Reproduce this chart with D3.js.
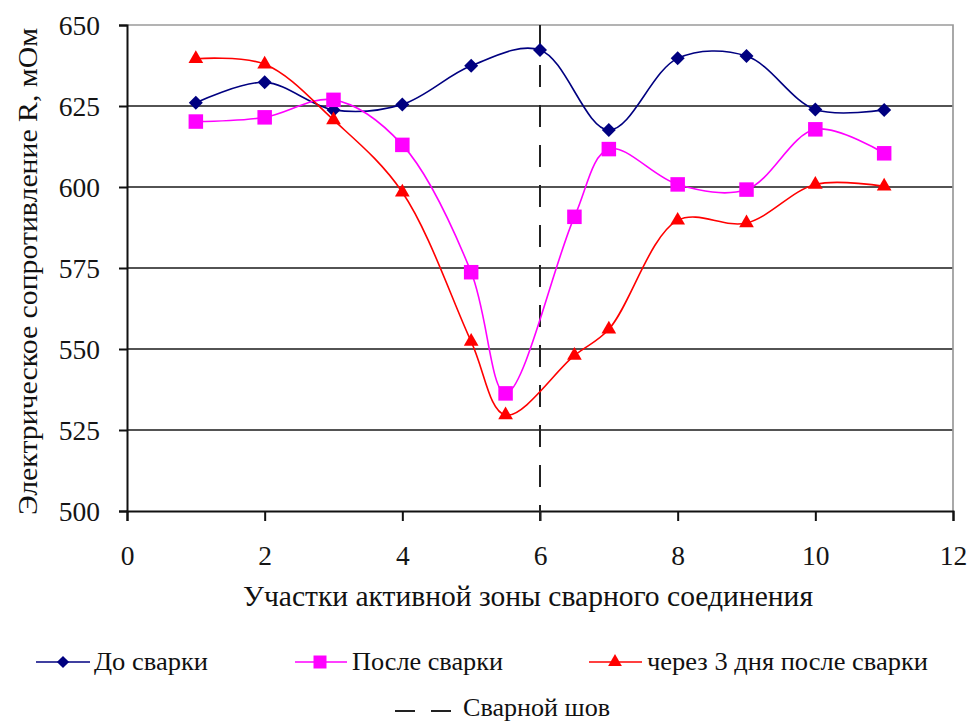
<!DOCTYPE html>
<html>
<head>
<meta charset="utf-8">
<script src="https://cdn.jsdelivr.net/npm/d3@7"></script>
<style>
  html, body { margin: 0; padding: 0; background: #fff; }
  svg { display: block; }
</style>
</head>
<body>
<svg id="chart" width="969" height="721"></svg>
<script>
// Measurement sites along the weld zone
const xBefore = [1, 2, 3, 4, 5, 6, 7, 8, 9, 10, 11];
const rBefore = [626.0, 632.3, 623.8, 625.5, 637.4, 642.3, 617.6, 639.7, 640.4, 623.9, 623.8];

const xAfter = [1, 2, 3, 4, 5, 5.5, 6.5, 7, 8, 9, 10, 11];
const rAfter = [620.2, 621.5, 626.9, 613.0, 573.7, 536.3, 590.8, 611.7, 600.8, 599.2, 617.8, 610.4];

const xLater = [1, 2, 3, 4, 5, 5.5, 6.5, 7, 8, 9, 10, 11];
const rLater = [639.6, 637.9, 620.7, 598.4, 552.3, 529.6, 548.0, 556.1, 589.7, 588.9, 600.8, 600.2];

const seamX = 6;

const xTicks = [0, 2, 4, 6, 8, 10, 12];
const yTicks = [500, 525, 550, 575, 600, 625, 650];

const seriesNames = ["До сварки", "После сварки", "через 3 дня после сварки"];
const seamName = "Сварной шов";
const xTitle = "Участки активной зоны сварного соединения";
const yTitle = "Электрическое сопротивление R,  мОм";

const FONT = '"Liberation Serif"';

const svg = d3.select("#chart");
const x = d3.scaleLinear().domain([0, 12]).range([127, 953]);
const y = d3.scaleLinear().domain([500, 650]).range([511, 25]);

// horizontal gridlines
svg.append("g").selectAll("line")
  .data(yTicks.filter(v => v > 500 && v < 650))
  .join("line")
  .attr("x1", x(0)).attr("x2", x(12))
  .attr("y1", d => y(d)).attr("y2", d => y(d))
  .attr("stroke", "#1a1a1a").attr("stroke-width", 1.7);

// plot border (top and right)
svg.append("path")
  .attr("d", `M${x(0)},${y(650)}H${x(12)}V${y(500)}`)
  .attr("fill", "none").attr("stroke", "#9a9a9a").attr("stroke-width", 1.7);

// axes
const xAxis = svg.append("g")
  .attr("transform", `translate(0,${y(500)})`)
  .call(d3.axisBottom(x).tickValues(xTicks).tickSize(10).tickPadding(24).tickFormat(d3.format("d")));
const yAxis = svg.append("g")
  .attr("transform", `translate(${x(0)},0)`)
  .call(d3.axisLeft(y).tickValues(yTicks).tickSize(8).tickPadding(19).tickFormat(d3.format("d")));
[xAxis, yAxis].forEach(g => {
  g.attr("font-family", "Liberation Serif").attr("font-size", 27.5);
  g.select(".domain").attr("stroke", "#111").attr("stroke-width", 2);
  g.selectAll(".tick line").attr("stroke", "#111").attr("stroke-width", 2);
  g.selectAll(".tick text")
    .style("font-family", FONT).style("font-size", "27.5px")
    .attr("fill", "#151515");
});
yAxis.selectAll(".tick text").attr("dy", "0.33em");

// weld seam marker
svg.append("line")
  .attr("x1", x(seamX)).attr("x2", x(seamX))
  .attr("y1", y(650)).attr("y2", y(500) + 10)
  .attr("stroke", "#222").attr("stroke-width", 2)
  .attr("stroke-dasharray", "22,18");

const line = d3.line().curve(d3.curveCatmullRom.alpha(0.5));

const series = [
  { xs: xBefore, ys: rBefore, color: "#000080", symbol: d3.symbolDiamond2, size: 125, legSize: 95 },
  { xs: xAfter, ys: rAfter, color: "#ff00ff", symbol: d3.symbolSquare2, size: 268, legSize: 215 },
  { xs: xLater, ys: rLater, color: "#ff0000", symbol: d3.symbolTriangle2, size: 155, legSize: 135 }
];

series.forEach(s => {
  const pts = s.xs.map((v, i) => [x(v), y(s.ys[i])]);
  svg.append("path")
    .attr("d", line(pts))
    .attr("fill", "none").attr("stroke", s.color).attr("stroke-width", 1.6);
  svg.append("g").selectAll("path")
    .data(pts)
    .join("path")
    .attr("transform", d => `translate(${d[0]},${d[1]})`)
    .attr("d", d3.symbol().type(s.symbol).size(s.size))
    .attr("fill", s.color);
});

// text helper: serif face, optional fitted width
function label(parent, str, size, width) {
  const t = parent.append("text")
    .attr("font-family", "Liberation Serif")
    .style("font-family", FONT).style("font-size", size + "px")
    .attr("fill", "#111")
    .text(str);
  if (width) t.attr("textLength", width).attr("lengthAdjust", "spacingAndGlyphs");
  return t;
}

// axis titles
label(svg, xTitle, 28.5, 570).attr("x", 243).attr("y", 606);
label(svg, yTitle, 28, 487)
  .attr("transform", `translate(37,515) rotate(-90)`);

// legend
const legendItems = [
  { cx: 63, x1: 36, x2: 90, tx: 94, cy: 662, s: series[0], label: seriesNames[0], w: 114 },
  { cx: 320, x1: 295, x2: 347, tx: 352, cy: 662, s: series[1], label: seriesNames[1], w: 151 },
  { cx: 615, x1: 589, x2: 642, tx: 647, cy: 662, s: series[2], label: seriesNames[2], w: 281 }
];
const leg = svg.append("g");
legendItems.forEach(it => {
  leg.append("line")
    .attr("x1", it.x1).attr("x2", it.x2)
    .attr("y1", it.cy).attr("y2", it.cy)
    .attr("stroke", it.s.color).attr("stroke-width", 1.6);
  leg.append("path")
    .attr("transform", `translate(${it.cx},${it.cy})`)
    .attr("d", d3.symbol().type(it.s.symbol).size(it.s.legSize))
    .attr("fill", it.s.color);
  label(leg, it.label, 26, it.w).attr("x", it.tx).attr("y", it.cy + 8);
});
leg.append("line")
  .attr("x1", 395).attr("x2", 451).attr("y1", 711).attr("y2", 711)
  .attr("stroke", "#222").attr("stroke-width", 2)
  .attr("stroke-dasharray", "20,16");
label(leg, seamName, 25.5, 147).attr("x", 463).attr("y", 715.5);
</script>
</body>
</html>
